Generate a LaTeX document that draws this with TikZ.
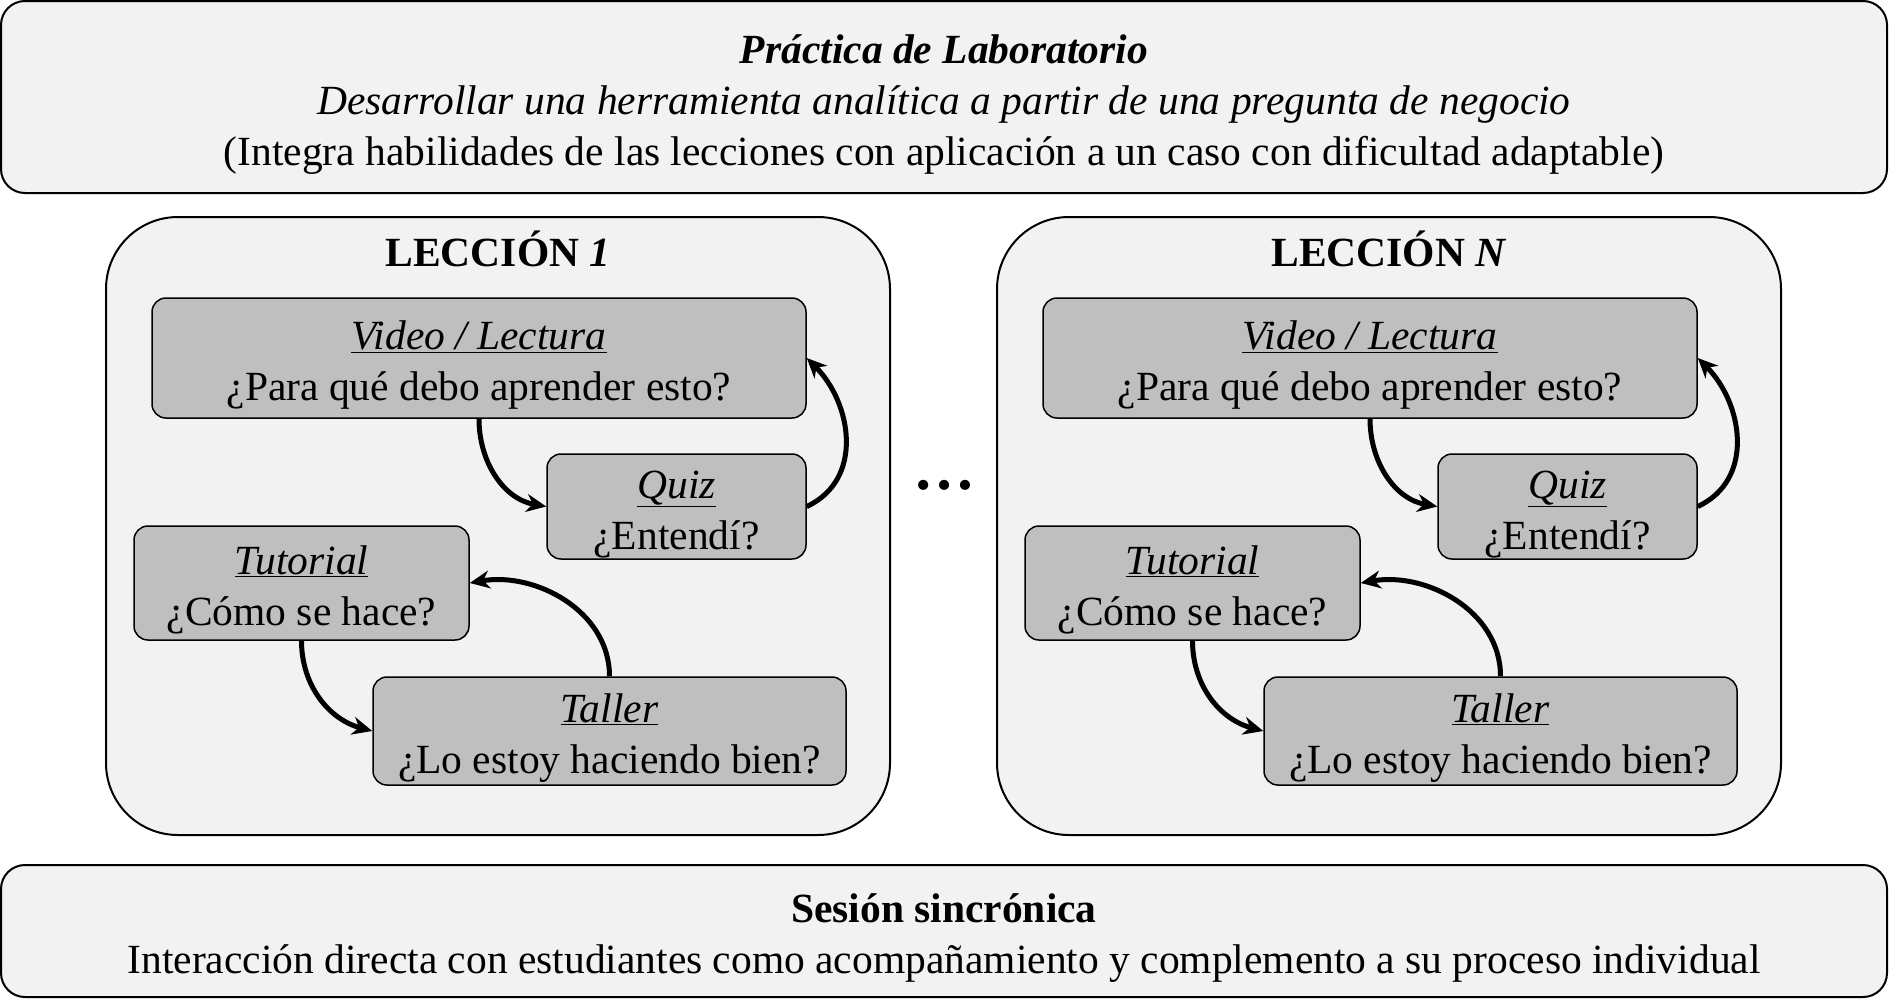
\documentclass[tikz,border=0pt]{standalone}
\usepackage{fontspec}
\setmainfont{Liberation Serif}
\usetikzlibrary{arrows.meta,positioning}
\definecolor{paleg}{HTML}{F2F2F2}
\definecolor{midg}{HTML}{BFBFBF}
\tikzset{
  bigbox/.style={draw,fill=paleg,line width=2pt,rounded corners=24pt,inner sep=0pt},
  lesbox/.style={draw,fill=paleg,line width=2pt,rounded corners=72pt,inner sep=0pt},
  actbox/.style={draw,fill=midg,line width=1.5pt,rounded corners=14pt,inner sep=0pt},
  flow/.style={line width=5pt,-{Stealth[length=20pt,width=18pt]}}
}
\newcommand{\acttitle}[1]{\underline{\textit{#1}}}
\newcommand{\lowered}[1]{\raisebox{-7pt}[\height][\depth]{\begin{tabular}{@{}c@{}}#1\end{tabular}}}

\begin{document}
\begin{tikzpicture}[x=1pt,y=-1pt,every node/.style={font=\fontsize{41.5}{51}\selectfont}]
\useasboundingbox (0,0) rectangle (1889,1007);
\node[bigbox,minimum width=1886pt,minimum height=192pt] (lab) at (944,97)
  {\lowered{\textbf{\textit{Práctica de Laboratorio}}\\
   \textit{Desarrollar una herramienta analítica a partir de una pregunta de negocio}\\
   (Integra habilidades de las lecciones con aplicación a un caso con dificultad adaptable)}};
\node[bigbox,minimum width=1886pt,minimum height=132pt] (sinc) at (944,931)
  {\lowered{\textbf{Sesión sincrónica}\\
   Interacción directa con estudiantes como acompañamiento y complemento a su proceso individual}};
\node[lesbox,minimum width=784pt,minimum height=618pt] (les1) at (498,526) {};
\node[lesbox,minimum width=784pt,minimum height=618pt] (lesN) at (1389,526) {};
\node[font=\fontsize{41.5}{51}\selectfont\bfseries] (tit1) at (498,249) {LECCIÓN \textit{1}};
\node[font=\fontsize{41.5}{51}\selectfont\bfseries] (titN) at (1389,249) {LECCIÓN \textit{N}};
\node[font=\fontsize{62}{62}\selectfont\bfseries] (dots) at (944,485) {…};
\node[actbox,minimum width=654pt,minimum height=120pt] (vid1) at (479,358) {\lowered{\acttitle{Video / Lectura}\\¿Para qué debo aprender esto?}};
\node[actbox,minimum width=259pt,minimum height=105pt] (quiz1) at (676.5,506.5) {\lowered{\acttitle{Quiz}\\¿Entendí?}};
\node[actbox,minimum width=335pt,minimum height=114pt] (tut1) at (301.5,583) {\lowered{\acttitle{Tutorial}\\¿Cómo se hace?}};
\node[actbox,minimum width=473pt,minimum height=108pt] (tal1) at (609.5,731) {\lowered{\acttitle{Taller}\\¿Lo estoy haciendo bien?}};
\node[actbox,minimum width=654pt,minimum height=120pt] (vidN) at (1370,358) {\lowered{\acttitle{Video / Lectura}\\¿Para qué debo aprender esto?}};
\node[actbox,minimum width=259pt,minimum height=105pt] (quizN) at (1567.5,506.5) {\lowered{\acttitle{Quiz}\\¿Entendí?}};
\node[actbox,minimum width=335pt,minimum height=114pt] (tutN) at (1192.5,583) {\lowered{\acttitle{Tutorial}\\¿Cómo se hace?}};
\node[actbox,minimum width=473pt,minimum height=108pt] (talN) at (1500.5,731) {\lowered{\acttitle{Taller}\\¿Lo estoy haciendo bien?}};
\draw[flow] (vid1.south) to[out=-90,in=170] (quiz1.west);
\draw[flow] (quiz1.east) to[out=25,in=-45,looseness=1.1] (vid1.east);
\draw[flow] (tut1.south) to[out=-90,in=165] (tal1.west);
\draw[flow] (tal1.north) to[out=90,in=10] (tut1.east);
\draw[flow] (vidN.south) to[out=-90,in=170] (quizN.west);
\draw[flow] (quizN.east) to[out=25,in=-45,looseness=1.1] (vidN.east);
\draw[flow] (tutN.south) to[out=-90,in=165] (talN.west);
\draw[flow] (talN.north) to[out=90,in=10] (tutN.east);
\end{tikzpicture}
\end{document}
